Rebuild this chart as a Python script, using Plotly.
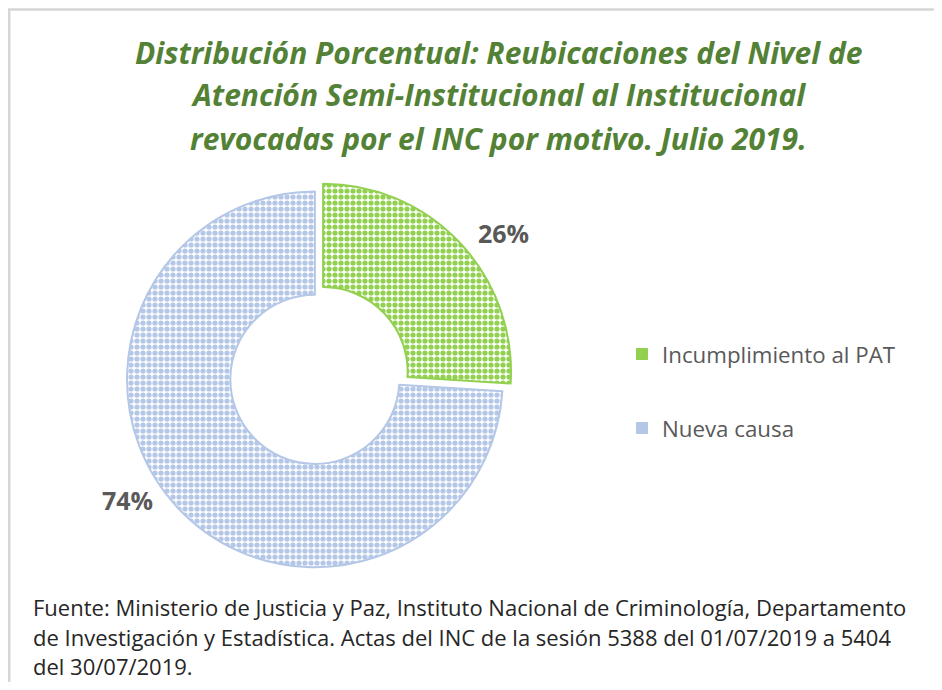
import plotly.graph_objects as go

# ---- data ----
categories = ["Incumplimiento al PAT", "Nueva causa"]
values = [26, 74]
slice_colors = ["#92D050", "#B4C7E7"]
title_lines = [
    "Distribución Porcentual: Reubicaciones del Nivel de",
    "Atención Semi-Institucional al Institucional",
    "revocadas por el INC por motivo. Julio 2019.",
]
footer_lines = [
    "Fuente: Ministerio de Justicia y Paz, Instituto Nacional de Criminología, Departamento",
    "de Investigación y Estadística. Actas del INC de la sesión 5388 del 01/07/2019 a 5404",
    "del 30/07/2019.",
]

# page has an 8px body margin; figure fills the rest exactly
OFF = 8
W, H = 942 - 2 * OFF, 690 - 2 * OFF
FONT = "Open Sans"


def px(x):  # page pixel -> paper x
    return (x - OFF) / W


def py(y):  # page pixel -> paper y
    return 1 - (y - OFF) / H


fig = go.Figure()

fig.add_trace(go.Pie(
    labels=categories,
    values=values,
    sort=False,
    direction="clockwise",
    rotation=0,
    hole=0.45,
    pull=[0.03, 0.03],
    marker=dict(
        colors=slice_colors,
        line=dict(color=slice_colors, width=2),
        pattern=dict(shape=".", fgcolor=slice_colors, bgcolor="white",
                     size=6, solidity=0.6, fillmode="replace"),
    ),
    textposition="none",
    domain=dict(x=[px(125.4), px(512.6)], y=[py(569), py(182)]),
    showlegend=False,
    hoverinfo="label+percent",
))

# legend entries (one per category)
for i, (cat, col) in enumerate(zip(categories, slice_colors)):
    fig.add_trace(go.Scatter(
        x=[None], y=[None], mode="markers", name=cat,
        legendgroup=f"g{i}",
        marker=dict(symbol="square", size=11, color=col,
                    line=dict(color=col, width=1)),
    ))

total = sum(values)
label_pos = [(503, 233), (127, 500)]
annotations = []
for v, (lx, ly) in zip(values, label_pos):
    annotations.append(dict(
        text=f"{round(100 * v / total)}%", x=px(lx), y=py(ly),
        xref="paper", yref="paper", xanchor="center", yanchor="middle",
        showarrow=False,
        font=dict(family=FONT, size=25, color="#595959", weight="bold"),
    ))
for i, line in enumerate(title_lines):
    annotations.append(dict(
        text=line, x=px(499), y=py(52 + 43 * i), xref="paper", yref="paper",
        xanchor="center", yanchor="middle", showarrow=False,
        font=dict(family=FONT, size=30, color="#538135", weight="bold",
                  style="italic"),
    ))
for i, line in enumerate(footer_lines):
    annotations.append(dict(
        text=line, x=px(31), y=py(607 + 29.5 * i), xref="paper", yref="paper",
        xanchor="left", yanchor="middle", showarrow=False, align="left",
        font=dict(family=FONT, size=22, color="#262626"),
    ))

frame = dict(color="#D6D6D6", width=2.5)
fig.update_layout(
    width=W, height=H,
    margin=dict(l=0, r=0, t=0, b=0),
    paper_bgcolor="white", plot_bgcolor="white",
    xaxis=dict(visible=False), yaxis=dict(visible=False),
    annotations=annotations,
    legend=dict(
        x=px(622), y=py(333), xanchor="left", yanchor="top",
        font=dict(family=FONT, size=22.3, color="#595959"),
        tracegroupgap=42, bgcolor="rgba(0,0,0,0)",
    ),
    shapes=[
        dict(type="line", xref="paper", yref="paper",
             x0=px(8), x1=1, y0=py(9.6), y1=py(9.6), line=frame),
        dict(type="line", xref="paper", yref="paper",
             x0=px(9.2), x1=px(9.2), y0=py(9), y1=0, line=frame),
    ],
)

fig.write_html("out.html")
